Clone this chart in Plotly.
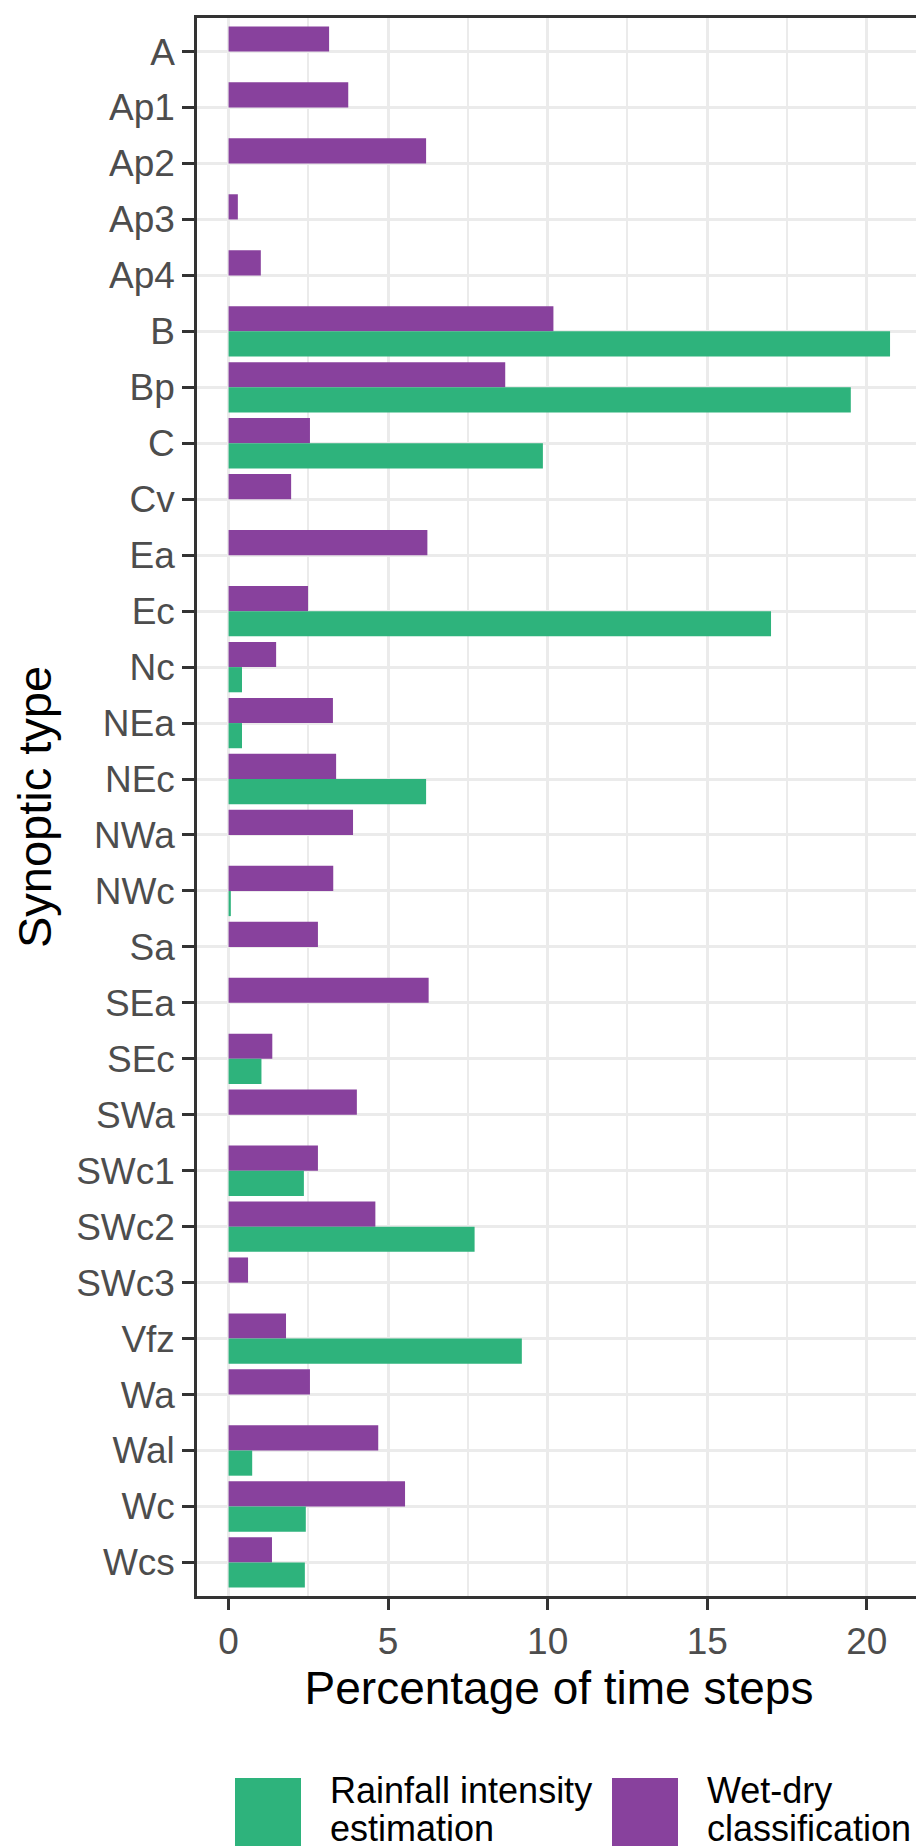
import plotly.graph_objects as go

categories = ["A", "Ap1", "Ap2", "Ap3", "Ap4", "B", "Bp", "C", "Cv", "Ea", "Ec", "Nc",
              "NEa", "NEc", "NWa", "NWc", "Sa", "SEa", "SEc", "SWa", "SWc1", "SWc2",
              "SWc3", "Vfz", "Wa", "Wal", "Wc", "Wcs"]

wet_dry = [3.15, 3.75, 6.19, 0.29, 1.01, 10.18, 8.67, 2.55, 1.96, 6.23, 2.49, 1.49,
           3.27, 3.37, 3.90, 3.28, 2.80, 6.27, 1.37, 4.02, 2.80, 4.60,
           0.61, 1.80, 2.55, 4.69, 5.53, 1.36]

rainfall = [None, None, None, None, None, 20.73, 19.50, 9.85, None, None, 17.00, 0.42,
            0.42, 6.19, None, 0.07, None, None, 1.03, None, 2.36, 7.71,
            None, 9.19, None, 0.74, 2.42, 2.39]

series_names = ["Rainfall intensity estimation", "Wet-dry classification"]
colors = {"Rainfall intensity estimation": "#2EB37C", "Wet-dry classification": "#88419D"}
x_ticks = [0, 5, 10, 15, 20]

FONT = "Liberation Sans, Arial, sans-serif"

fig = go.Figure()
fig.add_trace(go.Bar(y=categories, x=wet_dry, orientation="h", name=series_names[1],
                     marker=dict(color=colors[series_names[1]], line=dict(width=0)),
                     showlegend=False))
fig.add_trace(go.Bar(y=categories, x=rainfall, orientation="h", name=series_names[0],
                     marker=dict(color=colors[series_names[0]], line=dict(width=0)),
                     showlegend=False))

L, R, T, B = 189, 11, 10, 260
W, H = 924, 1848
pw, ph = W - L - R, H - T - B

def px(xp):
    return (xp - L) / pw

def py(yp):
    return (H - B - yp) / ph

# legend drawn as keys + real text
legend_items = [
    (series_names[0], ["Rainfall intensity", "estimation"], 227, 320),
    (series_names[1], ["Wet-dry", "classification"], 604, 697),
]
shapes = []
annotations = []
for name, lines, kx, tx in legend_items:
    shapes.append(dict(type="rect", xref="paper", yref="paper",
                       x0=px(kx), x1=px(kx + 66), y0=py(1838), y1=py(1770),
                       fillcolor=colors[name], line=dict(width=0)))
    for i, ln in enumerate(lines):
        annotations.append(dict(text=ln, xref="paper", yref="paper", x=px(tx),
                                y=py(1782 + 38 * i), xanchor="left", yanchor="middle",
                                showarrow=False, font=dict(family=FONT, size=36, color="black")))

fig.update_layout(
    width=W, height=H,
    margin=dict(l=L, r=R, t=T, b=B, pad=0),
    paper_bgcolor="white", plot_bgcolor="white",
    barmode="group", bargap=0.1, bargroupgap=0,
    font=dict(family=FONT, size=37, color="#4D4D4D"),
    shapes=shapes, annotations=annotations,
    showlegend=False,
)
fig.update_xaxes(
    range=[-0.99, 21.7], tickvals=x_ticks, ticktext=[str(v) for v in x_ticks],
    showgrid=True, gridcolor="#EBEBEB", gridwidth=3,
    minor=dict(dtick=2.5, tick0=0, showgrid=True, gridcolor="#EBEBEB", gridwidth=1.6),
    showline=True, mirror=True, linecolor="#333333", linewidth=2.5,
    ticks="outside", ticklen=11, tickwidth=2.5, tickcolor="#333333",
    tickfont=dict(family=FONT, size=37, color="#4D4D4D"),
    zeroline=False,
    title=dict(text="Percentage of time steps", font=dict(family=FONT, size=46, color="black"),
               standoff=6),
    automargin=False,
)
fig.update_yaxes(
    type="category", categoryorder="array", categoryarray=categories,
    range=[27.6, -0.6],
    showgrid=True, gridcolor="#EBEBEB", gridwidth=3,
    showline=True, mirror=True, linecolor="#333333", linewidth=2.5,
    ticks="outside", ticklen=12, tickwidth=2.5, tickcolor="#333333",
    tickfont=dict(family=FONT, size=37, color="#4D4D4D"),
    zeroline=False,
    title=dict(text="Synoptic type", font=dict(family=FONT, size=47, color="black"),
               standoff=10),
    automargin=False,
)

fig.write_html("out.html")
